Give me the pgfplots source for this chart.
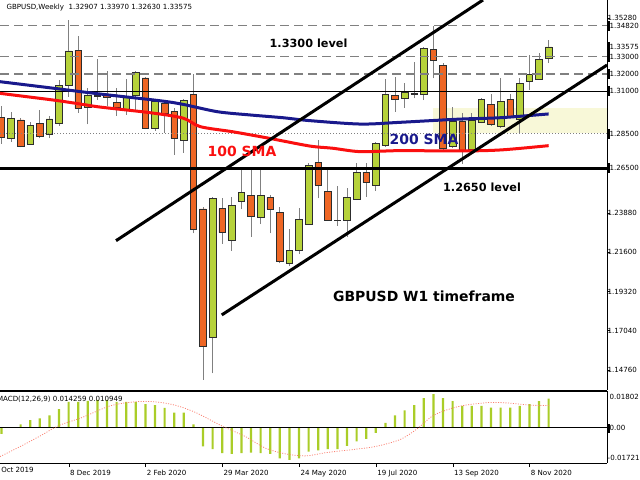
\documentclass[border=0pt]{standalone}
\usepackage{pgfplots}
\pgfplotsset{compat=1.18}
\usepackage{pgfplotstable}
\usepackage{fontspec}
\setmainfont{DejaVu Sans}

\definecolor{bull}{RGB}{182,210,58}
\definecolor{bear}{RGB}{238,102,36}
\definecolor{wick}{RGB}{128,128,128}
\definecolor{outline}{RGB}{45,45,45}
\definecolor{sma200}{RGB}{25,25,140}
\definecolor{sma100}{RGB}{250,15,15}
\definecolor{zone}{RGB}{248,248,216}
\definecolor{macdbar}{RGB}{170,205,40}
\definecolor{signal}{RGB}{250,128,114}

\newcommand\bigb{\fontsize{14}{16}\selectfont\bfseries}
\newcommand\lvlb{\fontsize{11.3}{13}\selectfont\bfseries}
\newcommand\smallf{\fontsize{7.1}{9}\selectfont}

% weekly candles, i = week number (0 = 13 Oct 2019)
\pgfplotstableread{
i o h l c
1 1.2947 1.3013 1.2792 1.2831
2 1.2827 1.2980 1.2805 1.2941
3 1.2932 1.2941 1.2772 1.2780
4 1.2790 1.2922 1.2786 1.2902
5 1.2912 1.2990 1.2825 1.2834
6 1.2850 1.2955 1.2825 1.2938
7 1.2912 1.3165 1.2897 1.3134
8 1.3134 1.3515 1.3068 1.3334
9 1.3338 1.3421 1.2974 1.3000
10 1.3006 1.3116 1.2906 1.3077
11 1.3074 1.3285 1.3048 1.3068
12 1.3074 1.3217 1.3013 1.3064
13 1.3035 1.3116 1.2955 1.3006
14 1.2994 1.3173 1.2961 1.3068
15 1.3074 1.3219 1.2990 1.3210
16 1.3177 1.3184 1.2877 1.2883
17 1.2883 1.3048 1.2869 1.3039
18 1.3029 1.3048 1.2858 1.2971
19 1.2980 1.3000 1.2728 1.2825
20 1.2815 1.3056 1.2741 1.3044
21 1.3079 1.3200 1.2271 1.2294
22 1.2413 1.2426 1.1416 1.1610
23 1.1664 1.2481 1.1454 1.2475
24 1.2415 1.2475 1.2209 1.2275
25 1.2228 1.2481 1.2170 1.2434
26 1.2457 1.2644 1.2411 1.2508
27 1.2494 1.2650 1.2251 1.2368
28 1.2364 1.2644 1.2325 1.2494
29 1.2481 1.2494 1.2271 1.2411
30 1.2395 1.2426 1.2096 1.2106
31 1.2096 1.2298 1.2080 1.2170
32 1.2174 1.2417 1.2150 1.2352
33 1.2325 1.2679 1.2319 1.2669
34 1.2683 1.2815 1.2475 1.2553
35 1.2514 1.2660 1.2345 1.2349
36 1.2348 1.2547 1.2314 1.2345
37 1.2345 1.2533 1.2251 1.2481
38 1.2469 1.2679 1.2465 1.2625
39 1.2628 1.2679 1.2485 1.2566
40 1.2553 1.2805 1.2520 1.2796
41 1.2786 1.3171 1.2776 1.3079
42 1.3074 1.3184 1.2980 1.3052
43 1.3060 1.3149 1.3004 1.3093
44 1.3083 1.3268 1.3058 1.3085
45 1.3081 1.3359 1.3048 1.3350
46 1.3344 1.3480 1.3175 1.3278
47 1.3252 1.3266 1.2757 1.2766
48 1.2776 1.3006 1.2766 1.2922
49 1.2922 1.2971 1.2675 1.2753
50 1.2761 1.2971 1.2757 1.2928
51 1.2916 1.3058 1.2912 1.3052
52 1.3021 1.3083 1.2897 1.2908
53 1.2893 1.3175 1.2887 1.3042
54 1.3052 1.3083 1.2941 1.2951
55 1.2936 1.3175 1.2850 1.3145
56 1.3155 1.3311 1.3107 1.3198
57 1.3171 1.3320 1.3165 1.3285
58 1.32907 1.33970 1.32630 1.33575
}\candles

% MACD(12,26,9) main values
\pgfplotstableread{
i m
1 -0.00298
2 0.00033
3 0.00165
4 0.00380
5 0.00463
6 0.00612
7 0.00910
8 0.01274
9 0.01274
10 0.01323
11 0.01373
12 0.01373
13 0.01274
14 0.01274
15 0.01274
16 0.01158
17 0.01108
18 0.00976
19 0.00744
20 0.00744
21 0.00165
22 -0.00910
23 -0.01042
24 -0.01241
25 -0.01274
26 -0.01241
27 -0.01207
28 -0.01241
29 -0.01274
30 -0.01489
31 -0.01571
32 -0.01489
33 -0.01158
34 -0.01108
35 -0.01042
36 -0.01042
37 -0.00877
38 -0.00662
39 -0.00546
40 -0.00248
41 0.00248
42 0.00612
43 0.00860
44 0.01108
45 0.01456
46 0.01654
47 0.01456
48 0.01307
49 0.01075
50 0.01075
51 0.01075
52 0.00992
53 0.00992
54 0.00992
55 0.01075
56 0.01158
57 0.01307
58 0.01426
}\macd

\pgfplotsset{
  chart/.style={at={(0bp,0bp)}, anchor=north west, scale only axis,
    width=607bp, height=390bp, xmin=0.854, xmax=64.08,
    ymin=1.13573, ymax=1.36313, enlargelimits=false},
}

\begin{document}
\begin{tikzpicture}[x=1bp,y=1bp]
\useasboundingbox (0,0) rectangle (640,-480);

% background: zone and wicks
\begin{axis}[chart, hide axis]
\addplot[fill=zone, draw=none] coordinates {(45.96,1.2856) (64.08,1.2856) (64.08,1.3003) (45.96,1.3003)} -- cycle;
\addplot[draw=none, mark=none, error bars/.cd, y dir=plus, y explicit,
  error mark=none, error bar style={draw=wick, solid, line width=1bp}]
  table[x=i, y=l, y error expr=\thisrow{h}-\thisrow{l}] {\candles};
\end{axis}

% candle bodies
\begin{axis}[chart, hide axis, ybar stacked, bar width=6.6bp]
\addplot[draw=none, fill=none] table[x=i, y expr={min(\thisrow{o},\thisrow{c})}] {\candles};
\addplot[fill=bull, draw=outline, line width=0.7bp] table[x=i, y expr={max(\thisrow{c}-\thisrow{o},0)}] {\candles};
\addplot[fill=bear, draw=outline, line width=0.7bp] table[x=i, y expr={max(\thisrow{o}-\thisrow{c},0)}] {\candles};
\end{axis}

% levels, averages, channel
\begin{axis}[chart, axis x line*=bottom, axis y line*=right, axis line style={-, black},
  xtick=\empty, ytick={1.1476,1.1704,1.1932,1.216,1.2388,1.3528},
  tick align=outside, major tick length=3bp, tick style={black},
  yticklabel style={font=\smallf, anchor=west, xshift=-3.5bp, inner xsep=1bp,
    /pgf/number format/.cd, fixed, fixed zerofill, precision=5, assume math mode=true}]
\addplot[wick, line width=1.2bp, dash pattern=on 9bp off 5bp] coordinates {(0.854,1.3482) (64.08,1.3482)};
\addplot[wick, line width=1.2bp, dash pattern=on 9bp off 5bp] coordinates {(0.854,1.33) (64.08,1.33)};
\addplot[wick, line width=1.2bp, dash pattern=on 9bp off 5bp] coordinates {(0.854,1.32) (64.08,1.32)};
\addplot[black, line width=1.2bp] coordinates {(0.854,1.31) (64.08,1.31)};
\addplot[wick, line width=1bp, dash pattern=on 1bp off 2bp] coordinates {(0.854,1.285) (64.08,1.285)};
\addplot[black, line width=3.5bp] coordinates {(0.854,1.265) (64.08,1.265)};
% 200 SMA
\addplot[sma200, line width=3bp, smooth] coordinates {
(0.85,1.3155) (6.4,1.3117) (11.3,1.3083) (17.5,1.3044) (19.9,1.3023) (23.5,1.2980)
(26.9,1.2961) (30.3,1.2945) (33.1,1.2928) (38.4,1.2908) (42.5,1.2918) (48.8,1.2937)
(53,1.2945) (58,1.2967)};
% 100 SMA
\addplot[sma100, line width=3bp, smooth] coordinates {
(0.85,1.3087) (6.4,1.3048) (9.2,1.3025) (11.3,1.3007) (16.5,1.2974) (19.9,1.2943)
(21.7,1.2893) (25.1,1.2863) (28.7,1.2827) (33.1,1.2780) (35.5,1.2767) (38.4,1.2747)
(42.5,1.2753) (48.8,1.2751) (53,1.2757) (58,1.2782)};
% channel
\addplot[black, line width=3bp] coordinates {(12.94,1.2228) (51.16,1.36313)};
\addplot[black, line width=3bp] coordinates {(23.95,1.1795) (64.08,1.3252)};
\end{axis}

% MACD window
\begin{axis}[at={(0bp,-391bp)}, anchor=north west, scale only axis,
  width=607bp, height=72bp, xmin=0.854, xmax=64.08, ymin=-0.01721, ymax=0.01802,
  enlargelimits=false, axis x line*=bottom, axis y line*=right, axis line style={-, black},
  ytick=\empty, xtick={8,16,24,32,40,48,56},
  xticklabels={8 Dec 2019, 2 Feb 2020, 29 Mar 2020, 24 May 2020, 19 Jul 2020, 13 Sep 2020, 8 Nov 2020},
  xticklabel style={font=\smallf, anchor=north west, xshift=-2bp},
  tick align=outside, major tick length=4bp, tick style={black}]
\draw[black] (rel axis cs:0,1) -- (rel axis cs:1,1);
\addplot[ybar, bar width=2.2bp, fill=macdbar, draw=none] table[x=i, y=m] {\macd};
\addplot[black, line width=1.2bp] coordinates {(0.854,0) (64.08,0)};
\addplot[signal, line width=0.8bp, dash pattern=on 1bp off 1.5bp, smooth] coordinates {
(0.85,-0.01406) (2.98,-0.0091) (5.1,-0.0038) (7.0,0.00116) (9.35,0.00496) (12.33,0.01075)
(14.9,0.01274) (17.0,0.01274) (19.1,0.01108) (21.26,0.00744) (24.0,0.00083) (26.36,-0.00414)
(28.5,-0.00992) (30.6,-0.01274) (32.7,-0.01373) (34.9,-0.01207) (37.4,-0.01075) (40.0,-0.0091)
(42.5,-0.00579) (44.2,-0.00083) (45.9,0.00579) (47.6,0.0091) (49.3,0.01108) (51.9,0.01241)
(54.0,0.01207) (56.1,0.01108) (58.0,0.01095)};
\end{axis}

% texts
\node[anchor=west, font=\smallf] at (3,-8) {GBPUSD,Weekly\ \ 1.32907 1.33970 1.32630 1.33575};
\node[anchor=west, font=\smallf] at (-6.5,-399) {MACD(12,26,9) 0.014259 0.010949};
\node[font=\lvlb] at (308.5,-43.5) {1.3300 level};
\node[font=\bigb, text=sma100] at (242,-151) {100 SMA};
\node[font=\bigb, text=sma200] at (424,-139.5) {200 SMA};
\node[font=\lvlb] at (482,-187.7) {1.2650 level};
\node[font=\bigb] at (424,-296.7) {GBPUSD W1 timeframe};

% price labels of the level lines
\foreach \y/\t in {25.6/1.34820, 47.0/1.33575, 56.8/1.33000, 73.9/1.32000, 91.1/1.31000, 134.0/1.28500, 168.3/1.26500} {
  \fill[black] (607,-\y-5) rectangle (610,-\y+5);
  \node[anchor=west, font=\smallf, inner xsep=0.5bp] at (609,-\y) {\t};
}
\node[anchor=west, font=\smallf, inner xsep=0.5bp] at (609,-397) {0.01802};
\node[anchor=west, font=\smallf, inner xsep=0.5bp] at (607,-458) {-0.01721};
\fill[black] (607,-432.5) rectangle (610,-423.5);
\node[anchor=west, font=\smallf, inner xsep=0.5bp] at (609,-428) {0.00};
\node[anchor=north west, font=\smallf] at (-13.5,-464) {13 Oct 2019};
\end{tikzpicture}
\end{document}
